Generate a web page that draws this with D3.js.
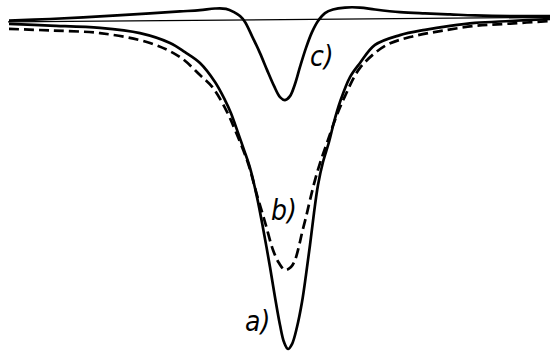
<!DOCTYPE html>
<html>
<head>
<meta charset="utf-8">
<script src="https://cdnjs.cloudflare.com/ajax/libs/d3/7.8.5/d3.min.js"></script>
<style>
	html, body { margin: 0; padding: 0; background: #fff; }
	svg { display: block; }
	.label { font-family: "DejaVu Sans Condensed", "DejaVu Sans", sans-serif; font-stretch: condensed; font-style: italic; font-size: 28px; fill: #000; }
</style>
</head>
<body>
<div id="chart"></div>
<script>

// detuning (arbitrary units) and line depth (% of a's peak)
var aX = [-27.8, -23.7, -18.7, -14.7, -11.7, -10.2, -8.7, -7.2, -6.2, -5.6, -5.0, -4.3, -3.7, -3.0, -2.4, -1.7, -1.2, -0.7, -0.3, 0.1,
	0.5, 1.0, 1.5, 1.9, 2.3, 2.7, 3.1, 3.6, 4.2, 4.7, 5.3, 6.3, 7.3, 8.8, 11.3, 13.8, 16.3, 18.8, 22.3, 26.3];
var aY = [1.2, 1.7, 2.4, 4.0, 7.0, 9.8, 13.1, 18.9, 24.4, 28.4, 33.5, 39.6, 45.1, 54.0, 63.4, 75.3, 84.5, 93.0, 98.2, 100.3,
	98.8, 93.6, 86.0, 77.7, 68.6, 58.8, 50.3, 43.3, 37.2, 31.1, 25.0, 17.4, 13.1, 7.6, 4.6, 3.0, 1.8, 0.9, 0.3, -0.3];

var bX = [-27.8, -23.7, -18.7, -13.7, -10.7, -8.7, -7.4, -6.0, -5.2, -3.9, -3.0, -2.2, -1.4, -0.8, -0.2,
	0.4, 0.8, 1.2, 1.5, 1.9, 2.3, 2.8, 3.4, 4.1, 4.8, 5.8, 7.3, 9.8, 12.3, 15.3, 18.8, 22.3, 26.3];
var bY = [2.7, 3.2, 4.0, 7.0, 11.3, 16.8, 20.7, 28.0, 33.5, 43.6, 53.4, 61.6, 70.1, 74.1, 76.2,
	75.3, 73.2, 68.9, 64.9, 60.1, 54.9, 48.8, 42.7, 36.6, 30.5, 23.2, 14.6, 7.9, 5.2, 3.4, 1.8, 1.1, 0.3];

var cX = [-27.8, -23.7, -18.7, -13.7, -10.7, -8.7, -7.2, -6.1, -5.3, -4.7, -4.2, -3.5, -2.7, -2.0, -1.3, -0.7, -0.2,
	0.3, 0.8, 1.3, 1.9, 2.5, 3.1, 3.8, 4.6, 5.8, 7.3, 8.8, 11.3, 13.8, 16.3, 18.8, 22.3, 26.3];
var cY = [0.2, -0.3, -1.1, -2.0, -2.6, -3.0, -3.5, -3.4, -2.4, -1.2, 0.6, 4.9, 10.1, 15.2, 20.1, 23.5, 24.4,
	23.2, 19.5, 14.3, 8.5, 3.7, 0.3, -2.1, -3.2, -3.8, -3.8, -3.2, -2.4, -2.0, -1.7, -1.4, -1.2, -1.2];

// reference zero line (slightly tilted in the original record)
var zeroX = [-27.9, 26.3];
var zeroY = [0.6, -0.8];

var labelText = ["a)", "b)", "c)"];
var labelX = [-4.2, -1.6, 2.3];
var labelY = [94.8, 61.0, 14.0];

var width = 550,
	height = 352;

var svg = d3.select("#chart").append("svg")
	.attr("width", width)
	.attr("height", height);

var x = d3.scaleLinear().domain([-28.7, 26.3]).range([0, width]);
var y = d3.scaleLinear().domain([0, 100]).range([20, 348]);

function toPoints(xs, ys) {
	return xs.map(function(v, i) { return [v, ys[i]]; });
}

var line = d3.line()
	.x(function(d) { return x(d[0]); })
	.y(function(d) { return y(d[1]); })
	.curve(d3.curveCatmullRom.alpha(0.5));

svg.append("path")
	.attr("d", line(toPoints(zeroX, zeroY)))
	.attr("fill", "none")
	.attr("stroke", "#000")
	.attr("stroke-width", 1.3);

var series = [
	{ pts: toPoints(aX, aY), dash: null },
	{ pts: toPoints(bX, bY), dash: "10,5" },
	{ pts: toPoints(cX, cY), dash: null }
];

svg.selectAll(".curve")
	.data(series)
	.enter()
	.append("path")
	.attr("class", "curve")
	.attr("d", function(d) { return line(d.pts); })
	.attr("fill", "none")
	.attr("stroke", "#000")
	.attr("stroke-width", 2.7)
	.attr("stroke-linejoin", "round")
	.attr("stroke-dasharray", function(d) { return d.dash; });

svg.selectAll(".label")
	.data(labelText)
	.enter()
	.append("text")
	.attr("class", "label")
	.attr("x", function(d, i) { return x(labelX[i]); })
	.attr("y", function(d, i) { return y(labelY[i]); })
	.text(function(d) { return d; });

</script>
</body>
</html>
